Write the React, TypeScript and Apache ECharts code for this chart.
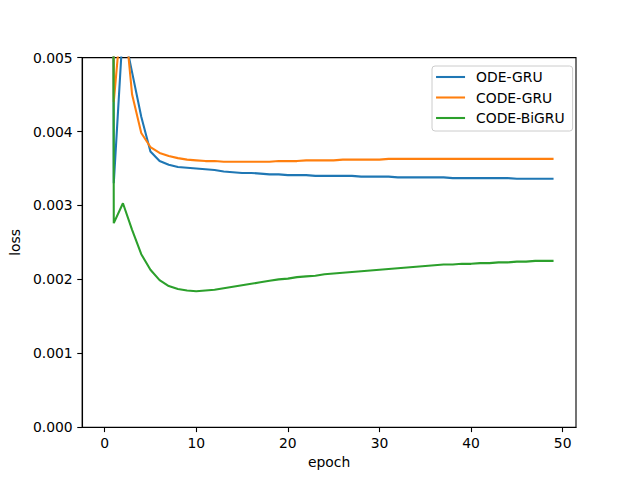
import React, { useEffect, useRef } from "react";
import * as echarts from "echarts";

const seriesNames = ["ODE-GRU", "CODE-GRU", "CODE-BiGRU"];
const colors = ["#1f77b4", "#ff7f0e", "#2ca02c"];
const xTicks = [0, 10, 20, 30, 40, 50];
const yTicks = [0, 0.001, 0.002, 0.003, 0.004, 0.005];

// epoch 0 values are far above the visible range (clipped)
const odeGru = [
  0.085, 0.0033, 0.0054, 0.0048, 0.0042, 0.00373, 0.0036, 0.00355, 0.00352, 0.00351,
  0.0035, 0.00349, 0.00348, 0.00346, 0.00345, 0.00344, 0.00344, 0.00343, 0.00342, 0.00342,
  0.00341, 0.00341, 0.00341, 0.0034, 0.0034, 0.0034, 0.0034, 0.0034, 0.00339, 0.00339,
  0.00339, 0.00339, 0.00338, 0.00338, 0.00338, 0.00338, 0.00338, 0.00338, 0.00337, 0.00337,
  0.00337, 0.00337, 0.00337, 0.00337, 0.00337, 0.00336, 0.00336, 0.00336, 0.00336, 0.00336,
];
const codeGru = [
  0.08, 0.0044, 0.0058, 0.0045, 0.00398, 0.00379, 0.00371, 0.00367, 0.00364, 0.00362,
  0.00361, 0.0036, 0.0036, 0.00359, 0.00359, 0.00359, 0.00359, 0.00359, 0.00359, 0.0036,
  0.0036, 0.0036, 0.00361, 0.00361, 0.00361, 0.00361, 0.00362, 0.00362, 0.00362, 0.00362,
  0.00362, 0.00363, 0.00363, 0.00363, 0.00363, 0.00363, 0.00363, 0.00363, 0.00363, 0.00363,
  0.00363, 0.00363, 0.00363, 0.00363, 0.00363, 0.00363, 0.00363, 0.00363, 0.00363, 0.00363,
];
const codeBiGru = [
  0.09, 0.00276, 0.00303, 0.00267, 0.00234, 0.00213, 0.00199, 0.00191, 0.00187, 0.00185,
  0.00184, 0.00185, 0.00186, 0.00188, 0.0019, 0.00192, 0.00194, 0.00196, 0.00198, 0.002,
  0.00201, 0.00203, 0.00204, 0.00205, 0.00207, 0.00208, 0.00209, 0.0021, 0.00211, 0.00212,
  0.00213, 0.00214, 0.00215, 0.00216, 0.00217, 0.00218, 0.00219, 0.0022, 0.0022, 0.00221,
  0.00221, 0.00222, 0.00222, 0.00223, 0.00223, 0.00224, 0.00224, 0.00225, 0.00225, 0.00225,
];
const allSeries = [odeGru, codeGru, codeBiGru];

const FONT = "DejaVu Sans";
const FS = 13.9;
const LW = 2.08;

export default function App() {
  const ref = useRef<HTMLDivElement>(null);
  useEffect(() => {
    if (!ref.current) return;
    const chart = echarts.init(ref.current, null, { renderer: "svg" });
    chart.setOption({
      animation: false,
      backgroundColor: "#ffffff",
      textStyle: { fontFamily: FONT },
      grid: {
        left: 80,
        right: 64,
        top: 57.6,
        bottom: 52.8,
        show: true,
        borderColor: "#000000",
        borderWidth: 1.1,
        backgroundColor: "transparent",
      },
      legend: {
        orient: "vertical",
        left: 432,
        top: 66,
        padding: [4, 8, 6, 3],
        itemWidth: 29,
        itemHeight: 14,
        itemGap: 6.5,
        backgroundColor: "rgba(255,255,255,0.8)",
        borderColor: "#cccccc",
        borderWidth: 1,
        borderRadius: 3,
        itemStyle: { color: "transparent", borderWidth: 0, opacity: 0 },
        lineStyle: { width: LW },
        textStyle: { fontFamily: FONT, fontSize: FS, color: "#000", padding: [0, 0, 0, 6] },
        data: seriesNames,
      },
      xAxis: {
        type: "value",
        min: -2.45,
        max: 51.45,
        name: "epoch",
        nameLocation: "middle",
        nameGap: 27,
        nameTextStyle: { fontFamily: FONT, fontSize: FS, color: "#000" },
        splitLine: { show: false },
        axisLine: { show: true, onZero: false, lineStyle: { color: "#000", width: 1.1 } },
        axisTick: { show: true, length: 4.9, lineStyle: { color: "#000", width: 1.1 }, customValues: xTicks },
        axisLabel: { fontFamily: FONT, fontSize: FS, color: "#000", margin: 8.5, customValues: xTicks },
      },
      yAxis: {
        type: "value",
        min: 0,
        max: 0.005,
        interval: 0.001,
        name: "loss",
        nameLocation: "middle",
        nameGap: 55,
        nameTextStyle: { fontFamily: FONT, fontSize: FS, color: "#000" },
        splitLine: { show: false },
        axisLine: { show: true, onZero: false, lineStyle: { color: "#000", width: 1.1 } },
        axisTick: { show: true, length: 4.9, lineStyle: { color: "#000", width: 1.1 }, customValues: yTicks },
        axisLabel: {
          fontFamily: FONT,
          fontSize: FS,
          color: "#000",
          margin: 9.5,
          customValues: yTicks,
          formatter: (v: number) => v.toFixed(3),
        },
      },
      series: allSeries.map((vals, s) => ({
        name: seriesNames[s],
        type: "line",
        symbol: "none",
        clip: true,
        color: colors[s],
        lineStyle: { color: colors[s], width: LW },
        data: vals.map((v, i) => [i, v]),
      })),
    });
    return () => chart.dispose();
  }, []);
  return (
    <div
      ref={ref}
      style={{ position: "fixed", left: 0, top: 0, width: 640, height: 480 }}
    />
  );
}
